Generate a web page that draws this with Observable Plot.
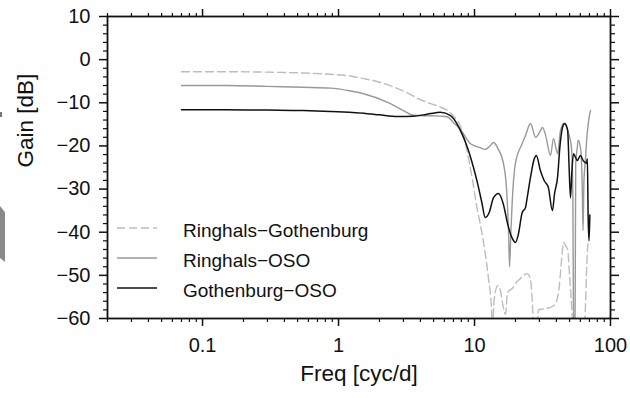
<!DOCTYPE html>
<html>
<head>
<meta charset="utf-8">
<script src="https://cdn.jsdelivr.net/npm/d3@7"></script>
<script src="https://cdn.jsdelivr.net/npm/@observablehq/plot@0.6"></script>
<style>
  body { margin: 0; background: #fff; }
  #chart { position: relative; width: 630px; height: 398px; }
  .edge { position: absolute; left: 0; top: 206px; width: 5px; height: 56px; background: #8a8a8a;
          clip-path: polygon(0 0, 100% 11%, 100% 100%, 0 93%); }
  .tick-mark { position: absolute; left: 0; top: 112px; width: 2px; height: 5px; background: #777; }
</style>
</head>
<body>
<div id="chart"><div class="edge"></div><div class="tick-mark"></div></div>
<script>
// Transfer gain between station pairs, frequency in cycles per day
const seriesNames = ["Ringhals\u2212Gothenburg", "Ringhals\u2212OSO", "Gothenburg\u2212OSO"];

const rgFreq = [0.07, 0.15, 0.3, 0.55, 0.87, 1.2, 1.53, 2.04, 2.72, 3.3, 3.81, 4.75, 5.6, 6.33, 7.0,
  8.2, 9.1, 9.67, 10.2, 11.6, 12.7, 13.3, 13.6, 13.9, 14.8, 15.5, 16.3, 16.9, 17.5, 19.0, 20.5, 21.8,
  23.0, 24.4, 25.8, 26.6, 27.3, 28.8, 29.5, 32.1, 35.5, 38.5, 41.5, 43.5, 45.2, 46.5, 48.4, 50.0,
  51.5, 53.5, 63.5, 65.3, 66.5, 67.5, 68.5];
const rgGain = [-2.8, -2.8, -2.9, -3.1, -3.4, -3.8, -4.4, -5.3, -6.7, -7.9, -9.0, -10.2, -11.0, -11.8, -13.0,
  -17, -23.4, -28, -32.6, -42, -51, -57, -63, -56, -52.4, -53.5, -57.5, -59, -54, -53, -51.5, -50.7,
  -50, -49.6, -51, -56, -63, -63, -58, -57.8, -57.5, -57, -54, -47, -42.4, -43, -44, -50,
  -56, -63, -63, -58, -50, -45, -42];

const roFreq = [0.07, 0.15, 0.3, 0.55, 0.87, 1.2, 1.53, 2.3, 3.0, 3.56, 4.2, 4.75, 5.6, 6.33, 7.0, 7.87,
  9.35, 11.0, 12.0, 13.0, 13.8, 14.8, 16.3, 17.2, 17.8, 18.1, 18.5, 19.0, 20.0, 22.4, 23.7, 25.8, 28.1,
  30.5, 31.6, 33.3, 36.2, 38.1, 40.8, 42.9, 45.5, 47.5, 49.1, 51.5, 52.8, 53.6, 54.8, 55.5, 57.0, 57.9,
  60.5, 62.0, 62.8, 63.8, 65.5, 67.0, 68.5, 70.0, 71.3];
const roGain = [-6.0, -6.0, -6.2, -6.4, -6.6, -7.2, -7.9, -9.9, -11.8, -12.9, -13.0, -13.0, -13.1, -13.3, -14.6, -16.2,
  -19.5, -20.4, -20.8, -20.0, -19.2, -20.5, -24, -30, -40, -48, -40, -32, -24, -19.5, -17.6, -14.8, -18,
  -16.5, -15.7, -17.5, -22.2, -18.3, -21.8, -16.4, -14.8, -15.5, -17, -20, -30, -65, -65, -24, -20.4, -18.7,
  -21, -30, -39.6, -28, -23, -18, -15, -13, -11.8];

const goFreq = [0.07, 0.15, 0.3, 0.55, 0.87, 1.2, 1.53, 2.0, 2.72, 3.56, 4.2, 4.75, 5.62, 6.66, 7.3, 7.87,
  8.88, 9.83, 10.5, 11.3, 12.0, 12.8, 13.8, 15.0, 16.3, 17.5, 19.0, 20.0, 21.0, 22.4, 23.7, 24.4, 25.8,
  27.5, 28.5, 30.5, 32.5, 34.9, 37.4, 38.8, 40.8, 42.5, 44.4, 46.0, 48.4, 49.5, 50.8, 52.0, 53.4, 55.0,
  57.0, 60.1, 63.0, 66.5, 67.6, 68.5, 69.5, 70.5];
const goGain = [-11.6, -11.6, -11.7, -11.8, -12.0, -12.2, -12.4, -12.8, -13.2, -13.1, -12.8, -12.5, -12.2, -13.0, -14.5, -16.4,
  -20.4, -25, -28.5, -33, -36.6, -35.5, -32, -31, -33.5, -38, -41.5, -42.4, -40.5, -35.5, -34.3, -32, -27.3,
  -23, -22.2, -25.7, -28, -29.6, -35, -31, -27.3, -20, -15.7, -14.8, -16.4, -24, -32, -26, -21.8, -22.5,
  -23.4, -22.2, -23.4, -24, -23, -36.6, -42, -36];

const xMajorTicks = [0.1, 1, 10, 100];
const yMajorTicks = [-60, -50, -40, -30, -20, -10, 0, 10];

// minor log ticks (2..9 of each decade) and minor gain ticks every 2 dB
const xMinorTicks = [];
for (const d of [0.01, 0.1, 1, 10]) for (let m = 2; m <= 9; m++) {
  const v = +(m * d).toPrecision(3);
  if (v >= 0.02 && v <= 100) xMinorTicks.push(v);
}
const yMinorTicks = d3.range(-60, 11, 2).filter(v => v % 10 !== 0);

const toRows = (f, g) => f.map((x, i) => ({freq: x, gain: g[i]}));
const styles = [
  {name: seriesNames[0], data: toRows(rgFreq, rgGain), stroke: "#bdbdbd", dash: "8,4", width: 1.4},
  {name: seriesNames[1], data: toRows(roFreq, roGain), stroke: "#999999", dash: null, width: 1.4},
  {name: seriesNames[2], data: toRows(goFreq, goGain), stroke: "#111111", dash: null, width: 1.5}
];

const font = "'Liberation Sans', Arial, Helvetica, sans-serif";

function legend(index, scales, values, dims) {
  const g = d3.create("svg:g").attr("font-family", font).attr("font-size", 19)
    .attr("text-anchor", "start");
  const x0 = dims.marginLeft + 10;
  const y0 = dims.height - dims.marginBottom - 90;
  styles.forEach((s, i) => {
    const y = y0 + i * 30;
    g.append("line").attr("x1", x0).attr("x2", x0 + 40).attr("y1", y).attr("y2", y)
      .attr("stroke", s.stroke).attr("stroke-width", s.width)
      .attr("stroke-dasharray", s.dash);
    g.append("text").attr("x", x0 + 66).attr("y", y).attr("dy", "0.46em")
      .attr("text-anchor", "start").attr("fill", "#111").text(s.name);
  });
  return g.node();
}

const chart = Plot.plot({
  width: 630,
  height: 398,
  marginTop: 16,
  marginLeft: 107,
  marginRight: 20,
  marginBottom: 80,
  style: {fontFamily: font, background: "transparent", color: "#111"},
  x: {type: "log", domain: [0.02, 100], label: null},
  y: {domain: [-60, 10], label: null},
  marks: [
    ...styles.map(s => Plot.line(s.data, {
      x: "freq", y: "gain", stroke: s.stroke, strokeWidth: s.width, curve: "monotone-x",
      strokeDasharray: s.dash ?? undefined, clip: true
    })),
    Plot.frame({stroke: "#111", strokeWidth: 1.8}),
    Plot.axisX(xMajorTicks, {anchor: "bottom", tickSize: 8, tickPadding: 11, fontSize: 20,
      strokeWidth: 1.5, label: null, tickFormat: d => String(d)}),
    Plot.axisX(xMinorTicks, {anchor: "bottom", tickSize: 4, strokeWidth: 1.2, label: null, tickFormat: () => ""}),
    Plot.axisX(xMajorTicks, {anchor: "top", tickSize: 8, strokeWidth: 1.5, label: null, tickFormat: () => ""}),
    Plot.axisX(xMinorTicks, {anchor: "top", tickSize: 4, strokeWidth: 1.2, label: null, tickFormat: () => ""}),
    Plot.axisY(yMajorTicks, {anchor: "left", tickSize: 8, tickPadding: 9, fontSize: 20,
      strokeWidth: 1.5, label: null}),
    Plot.axisY(yMinorTicks, {anchor: "left", tickSize: 4, strokeWidth: 1.2, label: null, tickFormat: () => ""}),
    Plot.axisY(yMajorTicks, {anchor: "right", tickSize: 8, strokeWidth: 1.5, label: null, tickFormat: () => ""}),
    Plot.axisY(yMinorTicks, {anchor: "right", tickSize: 4, strokeWidth: 1.2, label: null, tickFormat: () => ""}),
    Plot.text(["Freq [cyc/d]"], {frameAnchor: "bottom", dy: 62, fontSize: 22.5, fill: "#111"}),
    Plot.text(["Gain [dB]"], {frameAnchor: "left", dx: -82, rotate: -90, fontSize: 22.5, fill: "#111"}),
    legend
  ]
});

document.getElementById("chart").appendChild(chart);
</script>
</body>
</html>
